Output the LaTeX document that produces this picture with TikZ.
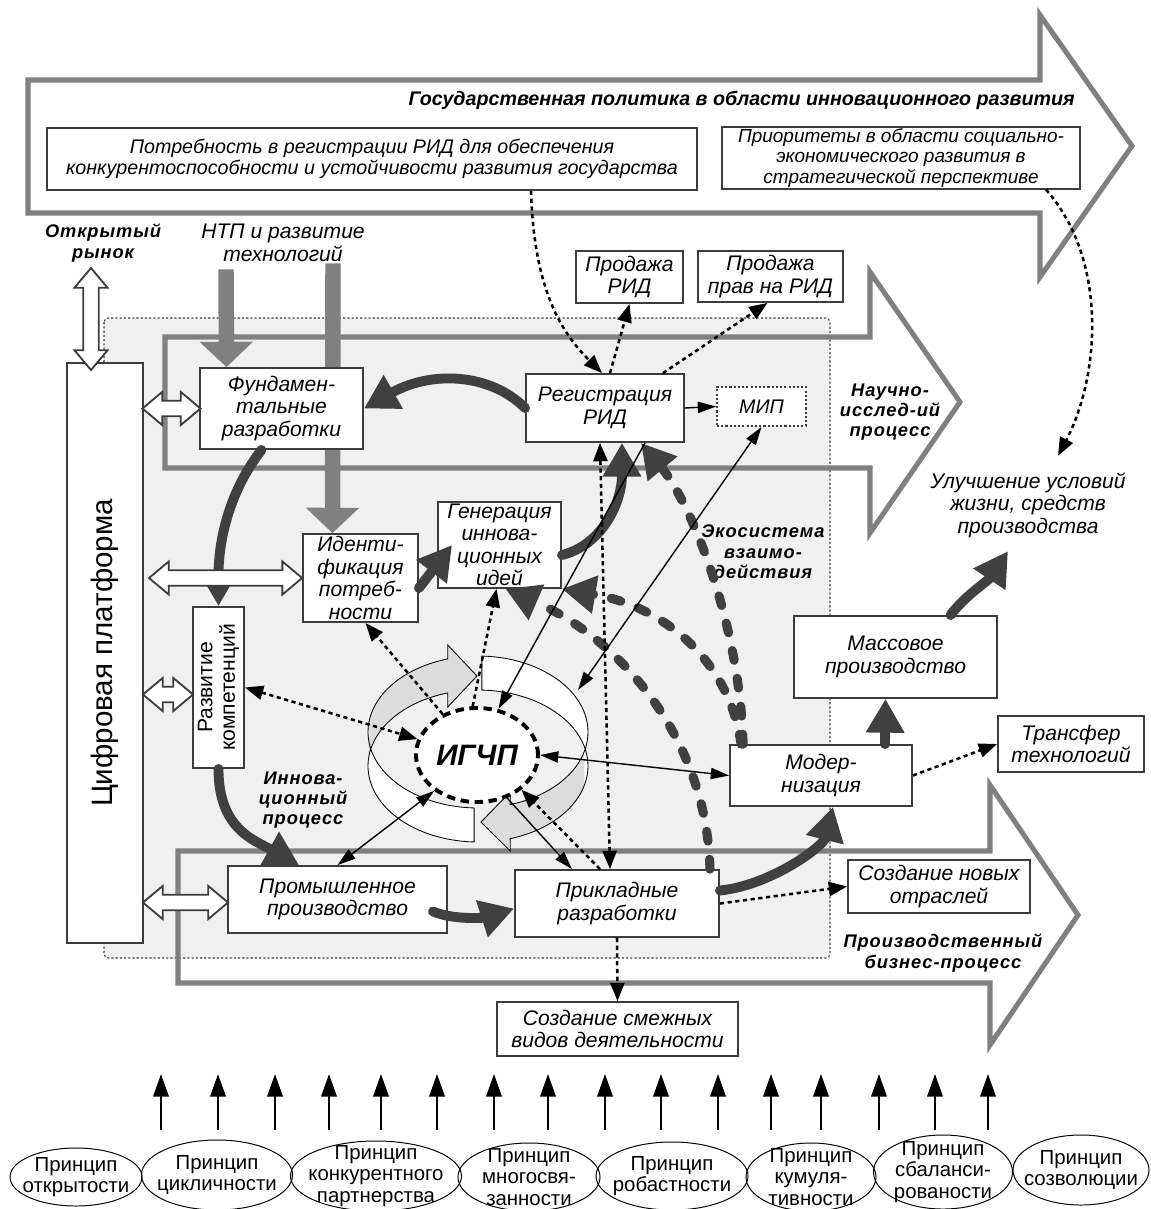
\documentclass[tikz,border=0pt]{standalone}
\usepackage{fontspec}
\setmainfont{Liberation Sans}
\newfontfamily\lblfont[LetterSpace=5]{Liberation Sans}
\usepackage{tikz}
\usetikzlibrary{arrows.meta,shapes.geometric,shapes.arrows,positioning,calc}
\definecolor{arrgray}{HTML}{808080}
\definecolor{boxgray}{HTML}{3C3C3C}
\definecolor{darkarr}{HTML}{404040}
\definecolor{zone}{HTML}{F0F0F0}
\definecolor{ringgray}{HTML}{DCDCDC}
\pgfdeclarelayer{back}
\pgfdeclarelayer{mid}
\pgfsetlayers{back,mid,main}

\begin{document}
\begin{tikzpicture}[x=0.025cm, y=-0.025cm]%[node distance=2cm]
\tikzstyle{box}=[draw=boxgray, line width=1.3pt, fill=white, shape=rectangle, align=center, inner sep=1pt, font=\fontsize{15}{16}\selectfont\itshape]
\tikzstyle{topbox}=[box, font=\fontsize{14}{15}\selectfont\itshape]
\tikzstyle{caption}=[align=center, inner sep=1pt, font=\fontsize{13}{14.5}\selectfont\lblfont\bfseries\itshape]
\tikzstyle{plain}=[align=center, inner sep=1pt, font=\fontsize{15}{16}\selectfont\itshape]
\tikzstyle{principle}=[draw=black, line width=0.7pt, shape=ellipse, inner sep=0pt]
\tikzstyle{prtext}=[align=center, inner sep=0pt, font=\fontsize{14.5}{15.5}\selectfont]
\tikzstyle{hollow}=[draw=boxgray, line width=1.3pt, fill=white, shape=double arrow, double arrow head extend=0.22cm, double arrow tip angle=80, inner xsep=0pt, inner ysep=0.17cm]
\tikzstyle{bigarrow}=[draw=arrgray, line width=3.6pt, line join=miter]
\tikzstyle{flow}=[draw=darkarr, line width=7pt, line cap=round, -{Triangle[length=24pt,width=26pt]}]
\tikzstyle{ecoflow}=[draw=darkarr, line width=6.5pt, line cap=round, dash pattern=on 7pt off 13pt, -{Triangle[length=24pt,width=26pt]}]
\tikzstyle{ntpflow}=[draw=arrgray, line width=11pt, -{Triangle[length=18pt,width=37pt]}]
\tikzstyle{link}=[black, line width=1pt, >={Triangle[length=13pt,width=8pt]}, ->]
\tikzstyle{dotlink}=[black, line width=1.8pt, dash pattern=on 3pt off 2.5pt, >={Triangle[length=13pt,width=10pt]}, ->]
\tikzstyle{uplink}=[black, line width=1.4pt, -{Triangle[length=16pt,width=11pt]}]

\useasboundingbox (0,0) rectangle (1150,1209);

% process arrows and the zone
\begin{pgfonlayer}{back}
\filldraw[bigarrow, fill=white] (28,80) -- (1040,80) -- (1040,15) -- (1132,146) -- (1040,277) -- (1040,213) -- (28,213) -- cycle;
\filldraw[fill=zone, draw=boxgray, line width=0.8pt, dash pattern=on 1.5pt off 1.5pt, rounded corners=3pt] (104,318) rectangle (830,958);
\draw[bigarrow] (165,337) -- (870,337) -- (870,272) -- (960,402) -- (870,533) -- (870,468) -- (165,468) -- cycle;
\draw[bigarrow] (178,851) -- (990,851) -- (990,785) -- (1078,915) -- (990,1045) -- (990,983) -- (178,983) -- cycle;
\end{pgfonlayer}

% ring round the IGChP
\begin{pgfonlayer}{mid}
\fill[white] plot[domain=268:106, samples=50] ({478+110*cos(\x)},{732-76*sin(\x)}) -- (447.7,645) -- (477,676) -- (447.7,707) -- plot[domain=106:268, samples=50] ({478+110*cos(\x)},{766-76*sin(\x)}) -- cycle;
\fill[ringgray] plot[domain=175:106, samples=30] ({478+110*cos(\x)},{732-76*sin(\x)}) -- (447.7,645) -- (477,676) -- (447.7,707) -- plot[domain=106:175, samples=30] ({478+110*cos(\x)},{766-76*sin(\x)}) -- cycle;
\draw[black, line width=0.6pt] plot[domain=268:106, samples=50] ({478+110*cos(\x)},{732-76*sin(\x)}) -- (447.7,645) -- (477,676) -- (447.7,707) -- plot[domain=106:268, samples=50] ({478+110*cos(\x)},{766-76*sin(\x)}) -- cycle;
\fill[white] plot[domain=88:-73, samples=50] ({478+110*cos(\x)},{732-76*sin(\x)}) -- (510.2,792) -- (481,822) -- (510.2,851) -- plot[domain=-73:88, samples=50] ({478+110*cos(\x)},{766-76*sin(\x)}) -- cycle;
\fill[ringgray] plot[domain=-15:-73, samples=30] ({478+110*cos(\x)},{732-76*sin(\x)}) -- (510.2,792) -- (481,822) -- (510.2,851) -- plot[domain=-73:-15, samples=30] ({478+110*cos(\x)},{766-76*sin(\x)}) -- cycle;
\draw[black, line width=0.6pt] plot[domain=88:-73, samples=50] ({478+110*cos(\x)},{732-76*sin(\x)}) -- (510.2,792) -- (481,822) -- (510.2,851) -- plot[domain=-73:88, samples=50] ({478+110*cos(\x)},{766-76*sin(\x)}) -- cycle;
\end{pgfonlayer}

% state level
\node[anchor=east, inner sep=0pt, font=\fontsize{14}{14}\selectfont\bfseries\itshape] (policy) at (1075,100) {Государственная политика в области инновационного развития};
\node[topbox, minimum width=16.25cm, minimum height=1.55cm] (need) at (372,159) {Потребность в регистрации РИД для обеспечения\\конкурентоспособности и устойчивости развития государства};
\node[topbox, minimum width=8.95cm, minimum height=1.5cm, font=\fontsize{13.5}{14.5}\selectfont\itshape] (prio) at (901,158) {Приоритеты в области социально-\\экономического развития в\\стратегической перспективе};

\node[caption] (mktlbl) at (103,243) {Открытый\\рынок};
\node[plain] (ntp) at (283,243) {НТП и развитие\\технологий};
\node[box, rotate=90, minimum width=14.5cm, minimum height=1.9cm, font=\fontsize{21}{21}\selectfont] (plat) at (105,653) {Цифровая платформа};

\node[box, minimum width=2.675cm, minimum height=1.3cm] (sale) at (629.5,277) {Продажа\\РИД};
\node[box, minimum width=3.625cm, minimum height=1.275cm] (rights) at (770.5,276.5) {Продажа\\прав на РИД};
\node[box, minimum width=4.075cm, minimum height=2.025cm] (fund) at (281.5,408.5) {Фундамен-\\тальные\\разработки};
\node[box, minimum width=3.95cm, minimum height=1.7cm] (reg) at (605,408) {Регистрация\\РИД};
\node[box, dash pattern=on 1.5pt off 1.5pt, minimum width=2.225cm, minimum height=0.975cm, font=\fontsize{14}{14}\selectfont\itshape] (mip) at (761.5,406.5) {МИП};
\node[box, minimum width=3.075cm, minimum height=2.15cm] (gen) at (499.5,545) {Генерация\\иннова-\\ционных\\идей};
\node[box, minimum width=2.875cm, minimum height=2.2cm] (ident) at (360.5,578) {Иденти-\\фикация\\потреб-\\ности};
\node[box, rotate=90, minimum width=4.025cm, minimum height=1.275cm, font=\fontsize{15}{16}\selectfont] (comp) at (218.5,687.5) {Развитие\\компетенций};
\node[box, minimum width=5.475cm, minimum height=1.675cm] (prom) at (337.5,899.5) {Промышленное\\производство};
\node[box, minimum width=5.1cm, minimum height=1.675cm] (appl) at (617,903.5) {Прикладные\\разработки};
\node[box, minimum width=6.025cm, minimum height=1.35cm] (adj) at (617.5,1029) {Создание смежных\\видов деятельности};
\node[box, minimum width=4.55cm, minimum height=1.525cm] (mod) at (821,775.5) {Модер-\\низация};
\node[box, minimum width=5.075cm, minimum height=2.05cm] (mass) at (895.5,657) {Массовое\\производство};
\node[box, minimum width=3.65cm, minimum height=1.4cm] (transf) at (1071,744) {Трансфер\\технологий};
\node[box, minimum width=4.55cm, minimum height=1.325cm] (newind) at (939,886.5) {Создание новых\\отраслей};
\node[ellipse, draw=black, line width=2.8pt, dash pattern=on 6pt off 4pt, fill=white, minimum width=3.05cm, minimum height=2.35cm, inner sep=0pt, font=\fontsize{21}{21}\selectfont\bfseries\itshape] (igchp) at (477,755) {ИГЧП};

\node[caption] (sci) at (890,412) {Научно-\\исслед-ий\\процесс};
\node[caption] (eco) at (763,552) {Экосистема\\взаимо-\\действия};
\node[caption] (inn) at (303,800) {Иннова-\\ционный\\процесс};
\node[caption] (biz) at (943,953) {Производственный\\бизнес-процесс};
\node[plain] (life) at (1028,505) {Улучшение условий\\жизни, средств\\производства};

% principles
\node[principle, minimum width=3.3cm, minimum height=1.45cm, label={[prtext]center:{Принцип\\открытости}}] (p1) at (76,1177) {};
\node[principle, minimum width=3.775cm, minimum height=1.75cm, label={[prtext]center:{Принцип\\цикличности}}] (p2) at (217,1175) {};
\node[principle, minimum width=4.275cm, minimum height=1.75cm, label={[prtext]center:{Принцип\\конкурентного\\партнерства}}] (p3) at (376,1176) {};
\node[principle, minimum width=3.55cm, minimum height=1.7cm, label={[prtext]center:{Принцип\\многосвя-\\занности}}] (p4) at (529,1177) {};
\node[principle, minimum width=3.8cm, minimum height=1.7cm, label={[prtext]center:{Принцип\\робастности}}] (p5) at (672,1176) {};
\node[principle, minimum width=3.25cm, minimum height=1.7cm, label={[prtext]center:{Принцип\\кумуля-\\тивности}}] (p6) at (811,1177) {};
\node[principle, minimum width=3.475cm, minimum height=1.85cm, label={[prtext]center:{Принцип\\сбаланси-\\рованости}}] (p7) at (943,1172) {};
\node[principle, minimum width=3.4cm, minimum height=1.75cm, label={[prtext]center:{Принцип\\созволюции}}] (p8) at (1081,1170) {};

\foreach \x [count=\i] in {161,218,275,329,381,437,494,548,605,661,718,771,821,879,935,988}{
  \coordinate (base\i) at (\x,1130);
  \coordinate (tip\i) at (\x,1074);
  \draw[uplink] (base\i) -- (tip\i);
}

% NTP inputs
\begin{pgfonlayer}{mid}
\draw[ntpflow] ($(ntp.south)+(-57,6)$) -- ($(fund.north)+(-55,0)$);
\draw[ntpflow] ($(ntp.south)+(50,0)$) -- ($(ident.north)+(-28,0)$);
\end{pgfonlayer}

% innovation cycle
\draw[flow] (reg.west) .. controls +(-35,-35) and +(67,-38) .. (fund.east);
\draw[flow] ($(fund.south)+(-20,0)$) .. controls +(-35,45) and +(0,-60) .. (comp.east);
\draw[flow] (comp.west) .. controls +(0,60) and +(-45,-25) .. ($(prom.north west)+(72,0)$);
\draw[flow] ($(prom.east)+(-15,12)$) .. controls +(25,10) and +(-25,8) .. ($(appl.west)+(0,5)$);
\draw[flow] ($(ident.east)+(0,10)$) -- ($(gen.west)+(15,0)$);
\draw[flow] ($(gen.east)+(0,10)$) .. controls +(40,-10) and +(0,60) .. ($(reg.south)+(17,0)$);
\draw[flow] ($(appl.east)+(0,-13)$) .. controls +(50,-5) and +(-10,40) .. ($(mod.south)+(12,0)$);
\draw[flow] ($(mod.north)+(64,0)$) -- ($(mass.south)+(-10,0)$);
\draw[flow] ($(mass.north)+(55,0)$) .. controls +(15,-20) and +(-20,30) .. ($(life.south)+(-20,12)$);

% ecosystem
\draw[ecoflow] ($(appl.north east)+(-10,0)$) .. controls +(-3,-130) and +(115,50) .. ($(gen.south)+(6,0)$);
\draw[ecoflow] ($(mod.north west)+(12,0)$) .. controls +(-12,-85) and +(100,17) .. (gen.south east);
\draw[ecoflow] ($(mod.north west)+(14,0)$) .. controls +(-3,-120) and +(50,60) .. ($(reg.south)+(36,0)$);

\coordinate (ringne) at (578,690);
\draw[link] (reg.east) -- (mip.west);
\draw[link] ($(reg.south)+(40,0)$) -- (igchp.65);
\draw[link, <->] (mip.south) -- (ringne);
\draw[link, <->] (igchp.east) -- (mod.west);
\draw[link, <->] (igchp.220) -- (prom.north);
\draw[link] (igchp.-55) -- ($(appl.north)+(-45,0)$);

\draw[dotlink] ($(need.south)+(159,0)$) .. controls +(3,100) and +(-40,-40) .. ($(reg.north)+(-3,0)$);
\draw[dotlink] ($(reg.north)+(5,0)$) -- (sale.south);
\draw[dotlink] ($(reg.north east)+(-22,0)$) -- ($(rights.south)+(-3,0)$);
\draw[dotlink] ($(prio.south)+(145,0)$) .. controls +(62,70) and +(42,-80) .. ($(life.north)+(30,-15)$);
\draw[dotlink, <->] (comp.south) -- (igchp.165);
\draw[dotlink] (igchp.130) -- ($(ident.south)+(5,0)$);
\draw[dotlink] (igchp.95) -- ($(gen.south)+(-3,0)$);
\draw[dotlink, <->] ($(reg.south)+(-5,0)$) -- ($(appl.north)+(-7,0)$);
\draw[dotlink] ($(appl.north)+(-17,0)$) -- (igchp.-38);
\draw[dotlink] (appl.east) -- (newind.west);
\draw[dotlink] (appl.south) -- (adj.north);
\draw[dotlink] (mod.east) -- (transf.west);

% links to the digital platform and the market
\node[hollow, minimum height=1.45cm] (h1) at ($(plat.south |- fund.west)!.5!(fund.west)$) {};
\node[hollow, minimum height=3.825cm] (h2) at ($(ident.west)+(-76.5,0)$) {};
\node[hollow, minimum height=1.25cm] (h3) at ($(plat.south |- comp.north)!.5!(comp.north)+(0,7)$) {};
\node[hollow, minimum height=2.125cm] (h4) at ($(plat.south |- prom.west)!.5!(prom.west)+(0,3)$) {};
\node[hollow, rotate=90, minimum height=2.55cm] (h5) at (91,319) {};

\end{tikzpicture}
\end{document}
